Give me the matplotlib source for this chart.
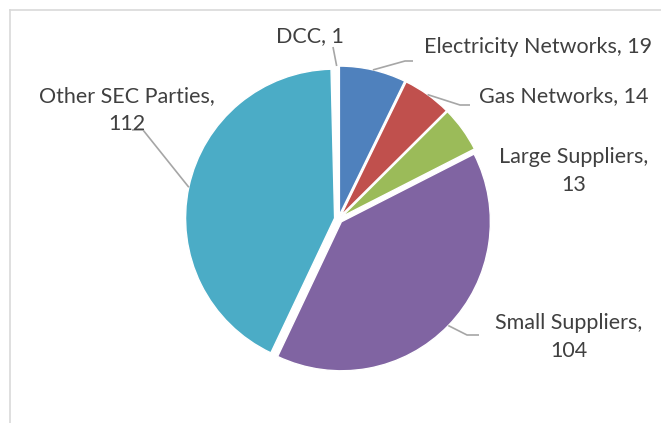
import numpy as np
import matplotlib
matplotlib.use('Agg')
import matplotlib.pyplot as plt

W, H = 661, 423

# data (order as drawn clockwise from 12 o'clock)
parties = ['Electricity Networks', 'Gas Networks', 'Large Suppliers',
           'Small Suppliers', 'Other SEC Parties', 'DCC']
counts = [19, 14, 13, 104, 112, 1]
colors = ['#4F81BD', '#C0504D', '#9BBB59', '#8064A2', '#4BACC6', '#FFFFFF']

# label layout in image pixels: text centre, line break, leader elbow points
label_text = {
    'Electricity Networks': ((538, 47), False, [(405, 61), (413, 61)]),
    'Gas Networks': ((564, 96), False, [(460, 105), (470, 105)]),
    'Large Suppliers': ((574, 171), True, None),
    'Small Suppliers': ((569, 337), True, [(467, 335), (479, 335)]),
    'Other SEC Parties': ((127, 110), True, [(143, 130), (132, 130)]),
    'DCC': ((310, 36), False, [(333, 47)]),
}

plt.rcParams['font.family'] = ['Lato', 'DejaVu Sans']
TXT = '#404040'
LEAD = '#A6A6A6'

fig = plt.figure(figsize=(W / 100, H / 100), dpi=100)
ax = fig.add_axes([0, 0, 1, 1])


def px(x, y):
    return x, H - y


# chart frame
ax.plot(*zip(px(10, 10), px(10, H)), color='#D9D9D9', lw=1.2)
ax.plot(*zip(px(10, 10), px(W, 10)), color='#D9D9D9', lw=1.2)

cx, cy = px(338.5, 219)
r = 149
explode = [4] * len(counts)  # matplotlib offsets in data units here
wedges, _ = ax.pie(counts, colors=colors, startangle=90, counterclock=False,
                   explode=explode, radius=r, center=(cx, cy), frame=True,
                   wedgeprops=dict(edgecolor='white', linewidth=1.0))
ax.set_xlim(0, W)
ax.set_ylim(0, H)
ax.set_aspect('equal')
ax.axis('off')

for w, name, n in zip(wedges, parties, counts):
    (tx, ty), wrap, elbow = label_text[name]
    sep = '\n' if wrap else ' '
    ax.text(*px(tx, ty), f'{name},{sep}{n}', ha='center', va='center',
            fontsize=15.5, color=TXT, linespacing=1.45)
    if elbow:
        mid = np.deg2rad((w.theta1 + w.theta2) / 2)
        wx, wy = w.center
        start = (wx + w.r * np.cos(mid), wy + w.r * np.sin(mid))
        pts = [start] + [px(*p) for p in elbow]
        xs, ys = zip(*pts)
        ax.plot(xs, ys, color=LEAD, lw=1.2, solid_capstyle='butt')

fig.savefig('out.png', dpi=100, facecolor='white')
